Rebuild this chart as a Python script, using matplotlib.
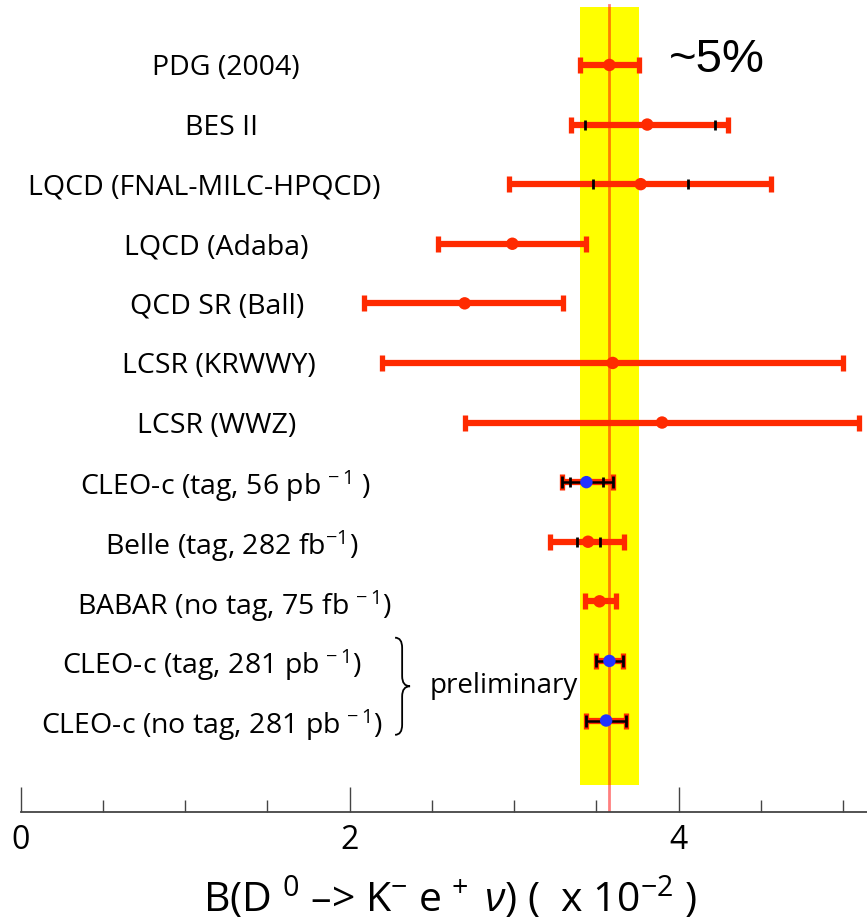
import numpy as np
import matplotlib
matplotlib.use('Agg')
import matplotlib.pyplot as plt
from matplotlib.path import Path
from matplotlib.patches import PathPatch
from matplotlib.ticker import MultipleLocator, FixedLocator

# ---------------- data ----------------
labels = [
    "PDG (2004)",
    "BES II",
    "LQCD (FNAL-MILC-HPQCD)",
    "LQCD (Adaba)",
    "QCD SR (Ball)",
    "LCSR (KRWWY)",
    "LCSR (WWZ)",
    r"CLEO-c (tag, 56 pb$^{\,-1}$ )",
    r"Belle (tag, 282 fb$^{-1}$)",
    r"BABAR (no tag, 75 fb$^{\,-1}$)",
    r"CLEO-c (tag, 281 pb$^{\,-1}$)",
    r"CLEO-c (no tag, 281 pb$^{\,-1}$)",
]
central  = [3.58, 3.81, 3.77, 2.99, 2.70, 3.60, 3.90, 3.44, 3.45, 3.52, 3.58, 3.56]
total_lo = [3.40, 3.345, 2.97, 2.54, 2.09, 2.20, 2.70, 3.29, 3.22, 3.43, 3.50, 3.44]
total_hi = [3.76, 4.30, 4.56, 3.44, 3.30, 5.00, 5.10, 3.60, 3.67, 3.62, 3.66, 3.68]
stat_lo  = [np.nan, 3.43, 3.48, np.nan, np.nan, np.nan, np.nan, 3.34, 3.38, np.nan, np.nan, np.nan]
stat_hi  = [np.nan, 4.22, 4.06, np.nan, np.nan, np.nan, np.nan, 3.54, 3.52, np.nan, np.nan, np.nan]
cleo_rows = [7, 10, 11]
pdg_value = 3.58
pdg_error = 0.18
major_ticks = [0, 2, 4]

# ---------------- layout / style ----------------
label_x = [1.249, 1.225, 1.115, 1.188, 1.197, 1.204, 1.195, 1.243, 1.286, 1.298, 1.164, 1.164]
RED = '#ff2a00'
BLUE = '#2233ff'

plt.rcParams['font.family'] = ['Open Sans', 'DejaVu Sans']
plt.rcParams['mathtext.fontset'] = 'custom'
plt.rcParams['mathtext.rm'] = 'Open Sans'
plt.rcParams['mathtext.it'] = 'Open Sans:italic'
plt.rcParams['mathtext.bf'] = 'Open Sans:bold'

W, H = 867, 921
fig = plt.figure(figsize=(W / 100, H / 100), dpi=100)
x0_px, axis_px, px_per_unit = 20.5, 811.7, 164.5
ax = fig.add_axes([x0_px / W, (H - axis_px) / H, (W - x0_px) / W, axis_px / H])
ax.set_xlim(0, (W - x0_px) / px_per_unit)
ax.set_ylim(12.53, -1.09)

# PDG band and central line
ax.axvspan(pdg_value - pdg_error, pdg_value + pdg_error, ymin=1 - 785 / axis_px,
           ymax=1 - 7 / axis_px, color='#ffff00', zorder=0, lw=0)
ax.axvline(pdg_value, ymin=0, ymax=1 - 5 / axis_px, color=(1, 0, 0, 0.5), lw=2, zorder=1)

y = np.arange(len(labels))
c = np.array(central)
lo = np.array(total_lo)
hi = np.array(total_hi)

ax.errorbar(c, y, xerr=[c - lo, hi - c], fmt='none', ecolor=RED, elinewidth=4.5,
            capsize=5.5, capthick=3.8, zorder=3)

for i in cleo_rows:
    ax.errorbar([c[i]], [i], xerr=[[c[i] - lo[i]], [hi[i] - c[i]]], fmt='none',
                ecolor='black', elinewidth=1.8, capsize=4.5, capthick=2.0, zorder=4)

sl = np.array(stat_lo)
sh = np.array(stat_hi)
ax.plot(sl, y, '|', color='black', ms=7.5, mew=2.0, zorder=5)
ax.plot(sh, y, '|', color='black', ms=7.5, mew=2.0, zorder=5)

colors = [BLUE if i in cleo_rows else RED for i in range(len(labels))]
ax.scatter(c, y, s=80, c=colors, zorder=6, linewidths=0)

# row labels
for i, lab in enumerate(labels):
    ax.text(label_x[i], i, lab, ha='center', va='center_baseline', fontsize=20.5)

# brace and "preliminary"
bx0, bx1, bxt = 2.277, 2.320, 2.368
bt, bb = 9.61, 11.24
bm = (bt + bb) / 2
q = 0.17
verts = [(bx0, bt), (bx1, bt), (bx1, bt + q),
         (bx1, bm - q),
         (bx1, bm), (bxt, bm),
         (bx1, bm), (bx1, bm + q),
         (bx1, bb - q),
         (bx1, bb), (bx0, bb)]
codes = [Path.MOVETO, Path.CURVE3, Path.CURVE3,
         Path.LINETO,
         Path.CURVE3, Path.CURVE3,
         Path.CURVE3, Path.CURVE3,
         Path.LINETO,
         Path.CURVE3, Path.CURVE3]
ax.add_patch(PathPatch(Path(verts, codes), fill=False, lw=1.3, color='black', zorder=5))
ax.text(2.49, bm, 'preliminary', ha='left', va='center', fontsize=20)

ax.text(4.23, -0.08, '~5%', ha='center', va='center', fontsize=34,
        family=['Liberation Sans', 'DejaVu Sans'])

# axis styling
for s in ['top', 'left', 'right']:
    ax.spines[s].set_visible(False)
ax.spines['bottom'].set_color('#444444')
ax.spines['bottom'].set_linewidth(1.3)
ax.set_yticks([])
ax.xaxis.set_major_locator(FixedLocator(major_ticks))
ax.xaxis.set_minor_locator(MultipleLocator(0.5))
ax.tick_params(axis='x', which='major', direction='in', length=18, width=1.0,
               color='#444444', pad=9, labelsize=23)
ax.tick_params(axis='x', which='minor', direction='in', length=9, width=1.0,
               color='#444444')
ax.patch.set_visible(False)

fig.text(450 / W, 1 - 899 / H,
         r'B(D $^{0}$ –> K$^{-}$ e$^{\,+}$ $\nu$) (  x 10$^{-2}$ )',
         ha='center', va='center', fontsize=29.5)

fig.savefig('out.png', dpi=100)
